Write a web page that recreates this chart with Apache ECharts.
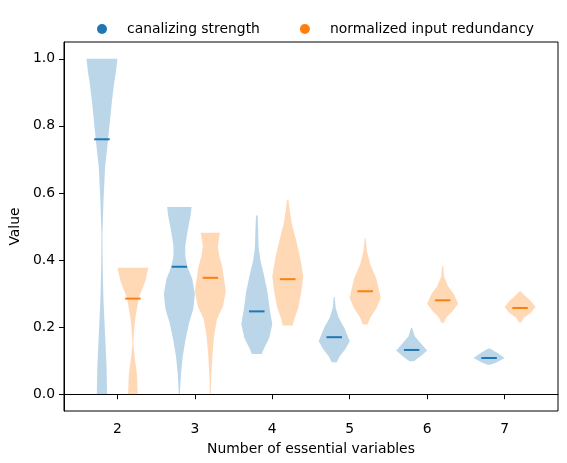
<!DOCTYPE html>
<html>
<head>
<meta charset="utf-8">
<script src="https://cdn.jsdelivr.net/npm/echarts@6/dist/echarts.min.js"></script>
<style>
  html, body { margin: 0; padding: 0; background: #fff; }
  #chart { width: 567px; height: 463px; }
</style>
</head>
<body>
<div id="chart"></div>
<script>
// number of essential variables (tick positions)
var nVars = [2, 3, 4, 5, 6, 7];
var yTicks = [0, 0.2, 0.4, 0.6, 0.8, 1.0];

// medians
var blueMedians = [0.76, 0.38, 0.247, 0.17, 0.132, 0.108];
var orangeMedians = [0.285, 0.347, 0.343, 0.307, 0.28, 0.257];

// violin outlines: [value, relative half width], top to bottom
var blueShapes = [
  [[1.0, 1.0], [0.96, 0.9], [0.925, 0.78], [0.875, 0.65], [0.825, 0.54], [0.76, 0.4], [0.675, 0.2], [0.575, 0.1], [0.477, 0.03],
   [0.377, 0.05], [0.28, 0.1], [0.18, 0.2], [0.08, 0.3], [0.0, 0.33]],
  [[0.558, 0.79], [0.531, 0.72], [0.491, 0.55], [0.442, 0.38], [0.412, 0.38], [0.38, 0.52], [0.343, 0.84],
   [0.298, 1.0], [0.254, 0.9], [0.213, 0.63], [0.163, 0.4], [0.113, 0.22], [0.063, 0.11], [0.0, 0.03]],
  [[0.533, 0.05], [0.487, 0.09], [0.437, 0.12], [0.397, 0.24], [0.358, 0.45], [0.307, 0.68], [0.249, 0.85],
   [0.209, 1.0], [0.168, 0.81], [0.138, 0.48], [0.12, 0.32]],
  [[0.29, 0.03], [0.258, 0.09], [0.228, 0.29], [0.198, 0.65], [0.17, 0.9], [0.158, 1.0], [0.133, 0.7],
   [0.113, 0.36], [0.095, 0.16]],
  [[0.198, 0.03], [0.173, 0.2], [0.151, 0.6], [0.13, 1.0], [0.113, 0.58], [0.098, 0.14]],
  [[0.136, 0.05], [0.123, 0.55], [0.108, 1.0], [0.095, 0.5], [0.088, 0.1]]
];
var orangeShapes = [
  [[0.377, 1.0], [0.337, 0.8], [0.287, 0.38], [0.228, 0.16], [0.18, 0.06], [0.15, 0.03], [0.108, 0.12],
   [0.06, 0.26], [0.0, 0.31]],
  [[0.481, 0.62], [0.442, 0.48], [0.412, 0.58], [0.377, 0.78], [0.307, 1.0], [0.263, 0.82], [0.224, 0.43],
   [0.173, 0.24], [0.113, 0.13], [0.054, 0.06], [0.0, 0.03]],
  [[0.578, 0.05], [0.546, 0.13], [0.507, 0.27], [0.457, 0.55], [0.407, 0.8], [0.352, 1.0], [0.307, 0.88],
   [0.258, 0.68], [0.223, 0.41], [0.205, 0.32]],
  [[0.465, 0.03], [0.427, 0.11], [0.387, 0.33], [0.347, 0.7], [0.307, 0.91], [0.287, 1.0], [0.258, 0.74],
   [0.228, 0.33], [0.208, 0.15]],
  [[0.382, 0.03], [0.352, 0.09], [0.322, 0.35], [0.297, 0.74], [0.27, 1.0], [0.248, 0.65], [0.228, 0.22],
   [0.213, 0.09]],
  [[0.307, 0.03], [0.292, 0.35], [0.278, 0.7], [0.26, 1.0], [0.243, 0.7], [0.228, 0.25], [0.213, 0.05]]
];

var BLUE = '#1f77b4', ORANGE = '#ff7f0e';
var halfWidth = 0.2;   // violin width 0.4
var medianHalf = 0.1;

function violinRenderer(shapes, color) {
  return function (params, api) {
    var cx = api.value(0);
    var med = api.value(1);
    var prof = shapes[api.value(2)];
    var right = prof.map(function (p) { return api.coord([cx + p[1] * halfWidth, p[0]]); });
    var left = prof.slice().reverse().map(function (p) { return api.coord([cx - p[1] * halfWidth, p[0]]); });
    var a = api.coord([cx - medianHalf, med]);
    var b = api.coord([cx + medianHalf, med]);
    return {
      type: 'group',
      children: [
        { type: 'polygon', shape: { points: right.concat(left) },
          style: { fill: color, opacity: 0.3 } },
        { type: 'line', shape: { x1: a[0], y1: a[1], x2: b[0], y2: b[1] },
          style: { stroke: color, lineWidth: 2 } }
      ]
    };
  };
}

var chart = echarts.init(document.getElementById('chart'));
chart.setOption({
  animation: false,
  textStyle: { fontFamily: 'DejaVu Sans' },
  legend: {
    top: 17,
    left: 92,
    icon: 'circle',
    itemWidth: 10,
    itemHeight: 10,
    itemGap: 40,
    textStyle: { fontSize: 13.9, color: '#000', padding: [0, 0, 0, 15] },
    data: ['canalizing strength', 'normalized input redundancy']
  },
  grid: {
    left: 61, right: 9, top: 42, bottom: 52,
    show: true, borderColor: '#000', borderWidth: 1
  },
  xAxis: {
    type: 'value',
    min: 1.31,
    max: 7.69,
    name: 'Number of essential variables',
    nameLocation: 'middle',
    nameGap: 31,
    nameTextStyle: { fontSize: 13.9, color: '#000' },
    splitLine: { show: false },
    axisLine: { show: true, lineStyle: { color: '#000' } },
    axisTick: { show: true, length: 5, customValues: nVars, lineStyle: { color: '#000' } },
    axisLabel: { customValues: nVars, fontSize: 13.9, color: '#000', margin: 11 }
  },
  yAxis: {
    type: 'value',
    min: -0.05,
    max: 1.05,
    name: 'Value',
    nameLocation: 'middle',
    nameGap: 37,
    nameTextStyle: { fontSize: 13.9, color: '#000' },
    splitLine: { show: false },
    axisLine: { show: true, lineStyle: { color: '#000' } },
    axisTick: { show: true, length: 5, customValues: yTicks, lineStyle: { color: '#000' } },
    axisLabel: {
      customValues: yTicks, fontSize: 13.9, color: '#000', margin: 9,
      formatter: function (v) { return v.toFixed(1); }
    }
  },
  series: [
    {
      name: 'canalizing strength',
      type: 'custom',
      itemStyle: { color: BLUE },
      encode: { x: 0, y: 1 },
      renderItem: violinRenderer(blueShapes, BLUE),
      data: nVars.map(function (n, i) { return [n - 0.2, blueMedians[i], i]; })
    },
    {
      name: 'normalized input redundancy',
      type: 'custom',
      itemStyle: { color: ORANGE },
      encode: { x: 0, y: 1 },
      renderItem: violinRenderer(orangeShapes, ORANGE),
      data: nVars.map(function (n, i) { return [n + 0.2, orangeMedians[i], i]; })
    }
  ]
});
</script>
</body>
</html>
